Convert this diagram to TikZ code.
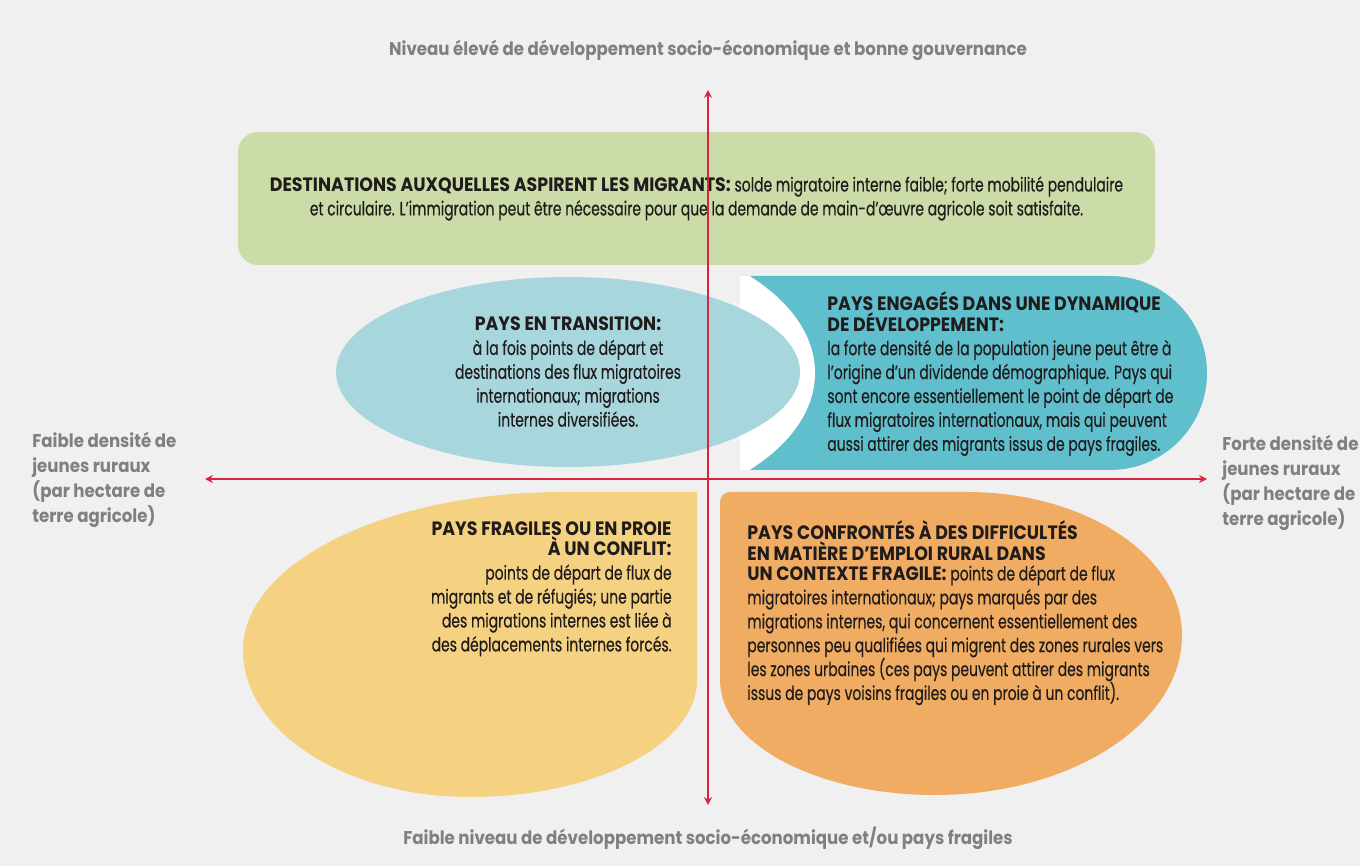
\documentclass[tikz,border=0pt]{standalone}
\usepackage{fontspec}
\setmainfont{Poppins}[FakeStretch=0.72,FakeBold=0.4]
\newfontfamily\headfont{Poppins}[FakeStretch=0.9]
\usetikzlibrary{arrows.meta,shapes.geometric}

\definecolor{bggray}{RGB}{240,240,240}
\definecolor{axisred}{RGB}{218,36,66}
\definecolor{axisgray}{RGB}{128,128,128}
\definecolor{inkblack}{RGB}{32,28,28}
\definecolor{destgreen}{RGB}{203,220,168}
\definecolor{transblue}{RGB}{168,214,221}
\definecolor{engteal}{RGB}{96,191,205}
\definecolor{fragyellow}{RGB}{245,209,130}
\definecolor{conforange}{RGB}{240,172,98}

\newcommand{\bodysize}{\fontsize{11}{13.6}\selectfont}
\newcommand{\qhead}[1]{{\headfont\bfseries #1}}

\begin{document}
\begin{tikzpicture}
    \fill[bggray] (0,0) rectangle (27.2,17.32);
    \useasboundingbox (0,0) rectangle (27.2,17.32);

    \fill[engteal] (14.8,11.8) -- (22.2,11.8) arc[start angle=90,end angle=-90,radius=1.94]
        -- (14.8,7.92) -- cycle;
    \begin{scope}
      \clip (14.8,11.8) -- (22.2,11.8) arc[start angle=90,end angle=-90,radius=1.94]
          -- (14.8,7.92) -- cycle;
      \fill[white] (11.36,9.86) ellipse [x radius=4.94, y radius=2.86];
    \end{scope}
    \fill[fragyellow] (13.94,7.48) -- (11.26,7.48)
        arc[start angle=90,end angle=180,x radius=6.4,y radius=3.16]
        arc[start angle=180,end angle=270,x radius=4.54,y radius=2.94]
        arc[start angle=270,end angle=360,x radius=4.54,y radius=2.34] -- cycle;
    \fill[conforange] (14.6,7.48) -- (19.34,7.48)
        arc[start angle=90,end angle=0,x radius=4.3,y radius=2.86]
        arc[start angle=0,end angle=-90,x radius=4.94,y radius=3.2]
        arc[start angle=270,end angle=180,x radius=4.3,y radius=2.3]
        -- (14.4,7.28) arc[start angle=180,end angle=90,radius=0.2] -- cycle;

    \begin{scope}[every node/.style={text=inkblack,inner sep=0pt,font=\bodysize}]
      \node[rectangle,rounded corners=0.4cm,fill=destgreen,minimum width=18.34cm,
            minimum height=2.66cm,align=center] (destinations) at (13.93,13.35)
        {\qhead{DESTINATIONS AUXQUELLES ASPIRENT LES MIGRANTS:} solde migratoire interne faible; forte mobilité pendulaire\\
         et circulaire. L’immigration peut être nécessaire pour que la demande de main-d’œuvre agricole soit satisfaite.};
      \node[ellipse,fill=transblue,minimum width=9.28cm,minimum height=3.8cm,align=center]
        (transition) at (11.36,9.88)
        {\qhead{PAYS EN TRANSITION:}\\ à la fois points de départ et\\ destinations des flux migratoires\\
         internationaux; migrations\\ internes diversifiées.};
      \node[anchor=west,align=left] (engages) at (16.54,9.84)
        {\qhead{PAYS ENGAGÉS DANS UNE DYNAMIQUE}\\[-2pt] \qhead{DE DÉVELOPPEMENT:}\\
         la forte densité de la population jeune peut être à\\ l’origine d’un dividende démographique. Pays qui\\
         sont encore essentiellement le point de départ de\\ flux migratoires internationaux, mais qui peuvent\\
         aussi attirer des migrants issus de pays fragiles.};
      \node[anchor=east,align=right] (fragiles) at (13.44,5.54)
        {\qhead{PAYS FRAGILES OU EN PROIE}\\[-2pt] \qhead{À UN CONFLIT:}\\ points de départ de flux de\\
         migrants et de réfugiés; une partie\\ des migrations internes est liée à\\ des déplacements internes forcés.};
      \node[anchor=west,align=left] (confrontes) at (14.94,5.06)
        {\qhead{PAYS CONFRONTÉS À DES DIFFICULTÉS}\\[-2pt] \qhead{EN MATIÈRE D’EMPLOI RURAL DANS}\\[-2pt]
         \qhead{UN CONTEXTE FRAGILE:} points de départ de flux\\ migratoires internationaux; pays marqués par des\\
         migrations internes, qui concernent essentiellement des\\ personnes peu qualifiées qui migrent des zones rurales vers\\
         les zones urbaines (ces pays peuvent attirer des migrants\\ issus de pays voisins fragiles ou en proie à un conflit).};
    \end{scope}

    \begin{scope}[every node/.style={text=axisgray,inner sep=0pt,font=\headfont\bfseries\fontsize{10.5}{14.2}\selectfont}]
      \node (high) at (14.16,16.32) {Niveau élevé de développement socio-économique et bonne gouvernance};
      \node (low) at (14.16,0.56) {Faible niveau de développement socio-économique et/ou pays fragiles};
      \node[anchor=west,align=left] (sparse) at (0.64,7.72)
        {Faible densité de\\ jeunes ruraux\\ (par hectare de\\ terre agricole)};
      \node[anchor=west,align=left] (dense) at (24.44,7.66)
        {Forte densité de\\ jeunes ruraux\\ (par hectare de\\ terre agricole)};
    \end{scope}

    \coordinate (up) at (14.16,15.52);
    \coordinate (down) at (14.16,1.22);
    \coordinate (west) at (4.10,7.74);
    \coordinate (east) at (24.14,7.74);

    \begin{scope}[>={Stealth[length=4.5pt,width=4.5pt]},
        every edge/.style={draw=axisred,line width=1pt}]
      \path [<->] (down) edge (up);
      \path [<->] (west) edge (east);
    \end{scope}
  \end{tikzpicture}
\end{document}
